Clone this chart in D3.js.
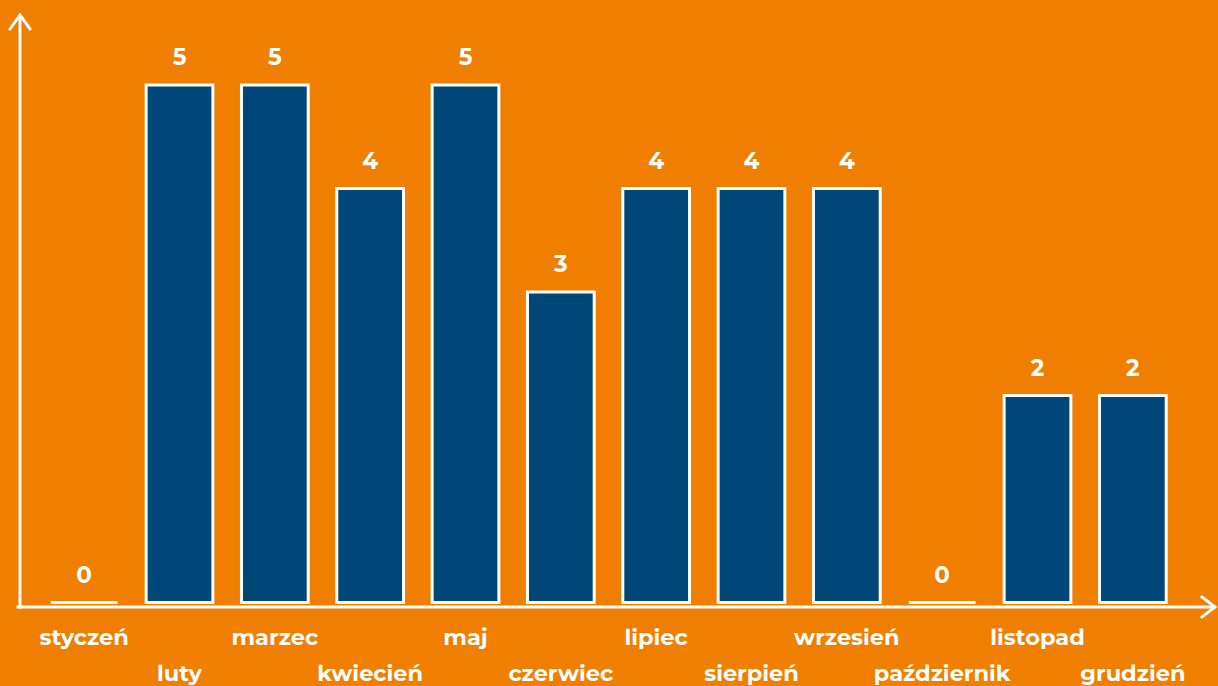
<!DOCTYPE html>
<html>
<head>
<meta charset="utf-8">
<script src="https://cdn.jsdelivr.net/npm/d3@7"></script>
<style>
  html, body { margin: 0; padding: 0; background: #f07f00; }
  svg { display: block; }
  text { font-family: "Montserrat", "Noto Sans", "Open Sans", sans-serif; font-weight: 700; fill: #fff; }
</style>
</head>
<body>
<svg id="chart" width="1218" height="686"></svg>
<script>
// months and number of items per month
const months = ["styczeń", "luty", "marzec", "kwiecień", "maj", "czerwiec",
  "lipiec", "sierpień", "wrzesień", "październik", "listopad", "grudzień"];
const counts = [0, 5, 5, 4, 5, 3, 4, 4, 4, 0, 2, 2];

const W = 1218, H = 686;
const svg = d3.select("#chart");

svg.append("rect").attr("width", W).attr("height", H).attr("fill", "#f07f00");

const x = d3.scaleBand()
  .domain(months)
  .range([36.5, 1180.5])
  .paddingInner(0.3)
  .paddingOuter(0.15);

const y = d3.scaleLinear().domain([0, 5]).range([602.5, 85]);

// bars
svg.append("g")
  .selectAll("rect")
  .data(months.filter((d, i) => counts[i] > 0))
  .join("rect")
  .attr("x", d => x(d))
  .attr("y", d => y(counts[months.indexOf(d)]))
  .attr("width", x.bandwidth())
  .attr("height", d => y(0) - y(counts[months.indexOf(d)]))
  .attr("fill", "#004779")
  .attr("stroke", "#fff")
  .attr("stroke-width", 3);

// zero values: flat white line at the base
svg.append("g")
  .selectAll("line")
  .data(months.filter((d, i) => counts[i] === 0))
  .join("line")
  .attr("x1", d => x(d))
  .attr("x2", d => x(d) + x.bandwidth())
  .attr("y1", y(0))
  .attr("y2", y(0))
  .attr("stroke", "#fff")
  .attr("stroke-width", 3);

// value labels
svg.append("g")
  .selectAll("text")
  .data(months)
  .join("text")
  .attr("x", d => x(d) + x.bandwidth() / 2)
  .attr("y", (d, i) => y(counts[i]) - 20)
  .attr("text-anchor", "middle")
  .attr("font-size", 23)
  .text((d, i) => counts[i]);

// month labels on two staggered rows
svg.append("g")
  .selectAll("text")
  .data(months)
  .join("text")
  .attr("x", d => x(d) + x.bandwidth() / 2)
  .attr("y", (d, i) => i % 2 === 0 ? 645 : 681)
  .attr("text-anchor", "middle")
  .attr("font-size", 22.5)
  .text(d => d);

// axes with open arrow heads
const axis = svg.append("g")
  .attr("stroke", "#fff")
  .attr("stroke-width", 3)
  .attr("fill", "none")
  .attr("stroke-linecap", "square");

axis.append("line").attr("x1", 20).attr("y1", 16).attr("x2", 20).attr("y2", 607);
axis.append("line").attr("x1", 18).attr("y1", 607).attr("x2", 1214).attr("y2", 607);
axis.append("path").attr("d", "M10,29 L20,15 L30,29");
axis.append("path").attr("d", "M1202,597 L1215,607 L1202,617");
</script>
</body>
</html>
